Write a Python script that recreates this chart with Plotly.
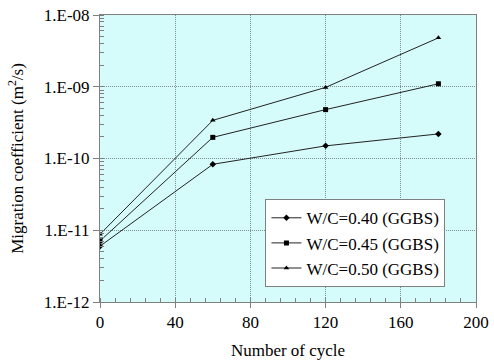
import plotly.graph_objects as go

cycles = [0, 60, 120, 180]
wc040 = [6.0e-12, 8.3e-11, 1.5e-10, 2.2e-10]
wc045 = [7.1e-12, 1.97e-10, 4.8e-10, 1.1e-9]
wc050 = [8.8e-12, 3.4e-10, 9.8e-10, 4.8e-9]
names = ["W/C=0.40 (GGBS)", "W/C=0.45 (GGBS)", "W/C=0.50 (GGBS)"]
symbols = ["diamond", "square", "triangle-up"]
y_tickvals = [1e-12, 1e-11, 1e-10, 1e-9, 1e-8]
y_ticktext = ["1.E-12", "1.E-11", "1.E-10", "1.E-09", "1.E-08"]
x_tickvals = [0, 40, 80, 120, 160, 200]

font = "Liberation Serif"
fig = go.Figure()
for vals, name, sym in zip([wc040, wc045, wc050], names, symbols):
    fig.add_trace(go.Scatter(
        x=cycles, y=vals, name=name, mode="lines+markers",
        line=dict(color="#222222", width=1),
        marker=dict(symbol=sym, size=5, color="black"),
    ))

fig.update_layout(
    width=494, height=360,
    margin=dict(l=100, r=18, t=15, b=58),
    paper_bgcolor="white", plot_bgcolor="#D6FBFB",
    font=dict(family=font, size=17, color="black"),
    showlegend=True,
    legend=dict(x=0.44, y=0.358, xanchor="left", yanchor="top",
                bgcolor="white", bordercolor="#808080", borderwidth=1,
                font=dict(family=font, size=17), tracegroupgap=0,
                itemwidth=30),
)
fig.update_xaxes(
    range=[0, 200], tickvals=x_tickvals, ticks="outside", ticklen=5,
    tickcolor="#808080", linecolor="#808080", linewidth=1, mirror=True,
    showgrid=True, gridcolor="#7F9090", griddash="1px,1px", gridwidth=1,
    zeroline=False, automargin=False,
    minor=dict(ticks="inside", dtick=8, ticklen=4, tickcolor="#808080", showgrid=False),
    title=dict(text="Number of cycle", font=dict(family=font, size=17)),
    tickfont=dict(family=font, size=17),
)
fig.update_yaxes(
    type="log", range=[-12, -8], tickvals=y_tickvals, ticktext=y_ticktext,
    ticks="outside", ticklen=6, tickcolor="#808080",
    linecolor="#808080", linewidth=1, mirror=True,
    showgrid=True, gridcolor="#7F9090", griddash="1px,1px", gridwidth=1,
    automargin=False,
    minor=dict(ticks="inside", dtick="D1", ticklen=4, tickcolor="#808080", showgrid=False),
    title=dict(text="Migration coefficient (m<sup>2</sup>/s)", font=dict(family=font, size=17)),
    tickfont=dict(family=font, size=17),
)
fig.write_html("out.html", config={"displayModeBar": False},
               post_script="document.body.style.margin='0px';")
